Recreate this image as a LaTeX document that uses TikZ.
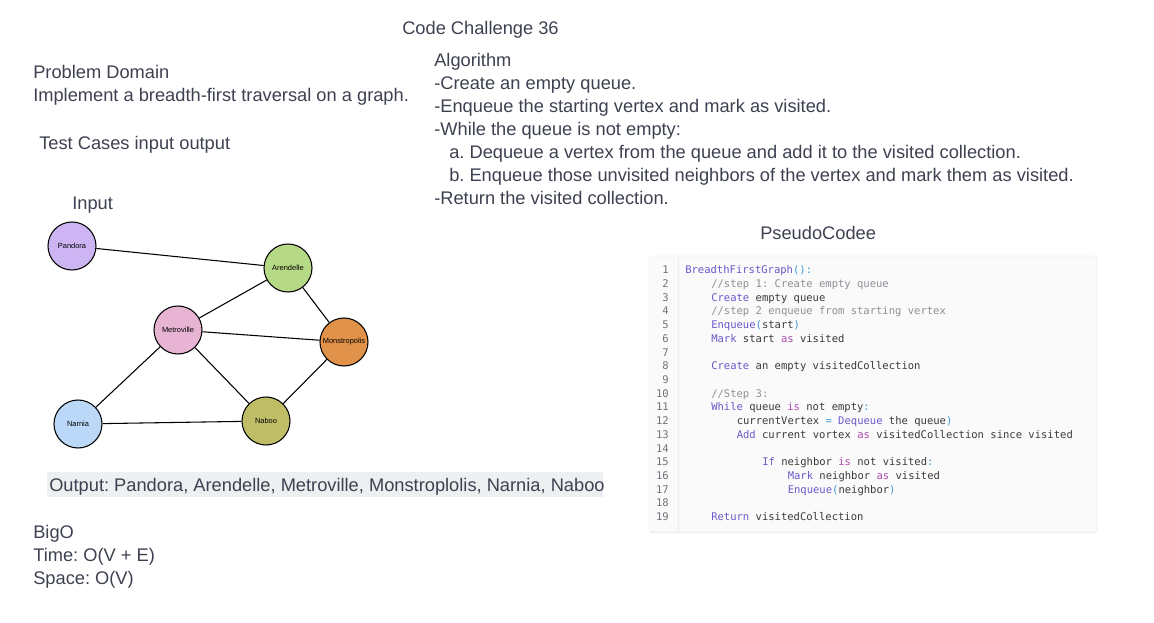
\documentclass[tikz,border=0pt]{standalone}
\usepackage{fontspec}
\setmainfont{Liberation Sans}
\setmonofont{DejaVu Sans Mono}
\usepackage{tikz}
\usetikzlibrary{shadows}
\usepackage{xcolor}
\definecolor{bfstext}{HTML}{3D4150}
\definecolor{bfsoutbg}{HTML}{EEEFF1}
\definecolor{bfscodebg}{HTML}{FAFAFA}
\definecolor{bfscodetxt}{HTML}{3A3A3A}
\definecolor{bfsnum}{HTML}{6F737A}
\definecolor{bfskw}{HTML}{6B57C9}
\definecolor{bfsmg}{HTML}{B04AB0}
\definecolor{bfsop}{HTML}{3C9BD6}
\definecolor{bfscm}{HTML}{8C9096}
\definecolor{bfspurple}{HTML}{CDB5F3}
\definecolor{bfsgreen}{HTML}{B7D884}
\definecolor{bfspink}{HTML}{E8B4D4}
\definecolor{bfsorange}{HTML}{E1924A}
\definecolor{bfsblue}{HTML}{BBD8F8}
\definecolor{bfsolive}{HTML}{BFBE67}
\newcommand{\ckw}[1]{\textcolor{bfskw}{#1}}
\newcommand{\cmg}[1]{\textcolor{bfsmg}{#1}}
\newcommand{\cop}[1]{\textcolor{bfsop}{#1}}
\newcommand{\ccm}[1]{\textcolor{bfscm}{#1}}
\frenchspacing

\begin{document}
\begin{tikzpicture}[x=0.75pt, y=-0.75pt,
  txt/.style={anchor=base west, inner sep=0pt, text=bfstext, font=\fontsize{13.7}{16}\selectfont},
  city/.style={circle, draw, line width=0.8pt, minimum size=36pt, inner sep=0pt, font=\fontsize{5.6}{7}\selectfont},
  road/.style={line width=0.8pt},
  code/.style={anchor=base west, inner sep=0pt, text=bfscodetxt, font=\ttfamily\fontsize{7.9}{9}\selectfont},
  lnum/.style={anchor=base east, inner sep=0pt, text=bfsnum, font=\ttfamily\fontsize{7.9}{9}\selectfont},
  codebox/.style={draw=black!6, fill=bfscodebg, rounded corners=2pt, minimum width=336pt, minimum height=207pt,
    drop shadow={opacity=0.12, shadow xshift=0pt, shadow yshift=-1pt}},
  outbox/.style={fill=bfsoutbg, minimum width=417pt, minimum height=18.75pt, inner sep=0pt}
]
  \useasboundingbox (0,0) rectangle (1154,622);

  \node[txt] (title) at (402,34) {Code Challenge 36};
  \node[txt] (domain) at (33,78) {Problem Domain};
  \node[txt] (task) at (33,101) {Implement a breadth-first traversal on a graph.};
  \node[txt] (tests) at (39,149) {Test Cases input output};
  \node[txt] (input) at (72,209) {Input};

  \node[txt] (alg) at (434,66) {Algorithm};
  \node[txt] (alg1) at (434,89) {-Create an empty queue.};
  \node[txt] (alg2) at (434,112) {-Enqueue the starting vertex and mark as visited.};
  \node[txt] (alg3) at (434,135) {-While the queue is not empty:};
  \node[txt] (alg4) at (449,158) {a. Dequeue a vertex from the queue and add it to the visited collection.};
  \node[txt] (alg5) at (449,181) {b. Enqueue those unvisited neighbors of the vertex and mark them as visited.};
  \node[txt] (alg6) at (434,204) {-Return the visited collection.};

  \node[city, fill=bfspurple] (pandora) at (72,246) {Pandora};
  \node[city, fill=bfsgreen] (arendelle) at (288,268) {Arendelle};
  \node[city, fill=bfspink] (metroville) at (178,330) {Metroville};
  \node[city, fill=bfsorange] (monstropolis) at (344,342) {Monstropolis};
  \node[city, fill=bfsblue] (narnia) at (78,424) {Narnia};
  \node[city, fill=bfsolive] (naboo) at (266,421) {Naboo};

  \draw[road] (pandora) -- (arendelle);
  \draw[road] (arendelle) -- (metroville);
  \draw[road] (arendelle) -- (monstropolis);
  \draw[road] (metroville) -- (monstropolis);
  \draw[road] (metroville) -- (narnia);
  \draw[road] (metroville) -- (naboo);
  \draw[road] (monstropolis) -- (naboo);
  \draw[road] (narnia) -- (naboo);

  \node[outbox] (outbg) at (325,484.5) {};
  \node[txt] (output) at (49,491) {Output: Pandora, Arendelle, Metroville, Monstroplolis, Narnia, Naboo};

  \node[txt] (bigo) at (33,538) {BigO};
  \node[txt] (time) at (33,561) {Time: O(V + E)};
  \node[txt] (space) at (33,584) {Space: O(V)};

  \node[txt] (pseudo) at (760,239) {PseudoCodee};
  \node[codebox] (codebox) at (873,394) {};
  \draw[black!7] (678,256) -- (678,532);
  \foreach \i in {1,...,19}
    \node[lnum] (ln\i) at (669,{273.7+13.72*(\i-1)}) {\i};

  \node[code] (c1) at (685,273.7) {\ckw{BreadthFirstGraph}\cop{():}};
  \node[code] (c2) at (711,287.4) {\ccm{//step 1: Create empty queue}};
  \node[code] (c3) at (711,301.1) {\ckw{Create} empty queue};
  \node[code] (c4) at (711,314.9) {\ccm{//step 2 enqueue from starting vertex}};
  \node[code] (c5) at (711,328.6) {\ckw{Enqueue}\cop{(}start\cop{)}};
  \node[code] (c6) at (711,342.3) {\ckw{Mark} start \cmg{as} visited};
  \node[code] (c8) at (711,369.7) {\ckw{Create} an empty visitedCollection};
  \node[code] (c10) at (711,397.2) {\ccm{//Step 3:}};
  \node[code] (c11) at (711,410.9) {\ckw{While} queue \cmg{is} not empty\cop{:}};
  \node[code] (c12) at (736.5,424.6) {currentVertex \cop{=} \ckw{Dequeue} the queue\cop{)}};
  \node[code] (c13) at (736.5,438.3) {\ckw{Add} current vortex \cmg{as} visitedCollection since visited};
  \node[code] (c15) at (762,465.8) {\ckw{If} neighbor \cmg{is} not visited\cop{:}};
  \node[code] (c16) at (787.5,479.5) {\ckw{Mark} neighbor \cmg{as} visited};
  \node[code] (c17) at (787.5,493.2) {\ckw{Enqueue}\cop{(}neighbor\cop{)}};
  \node[code] (c19) at (711,520.7) {\ckw{Return} visitedCollection};
\end{tikzpicture}
\end{document}
